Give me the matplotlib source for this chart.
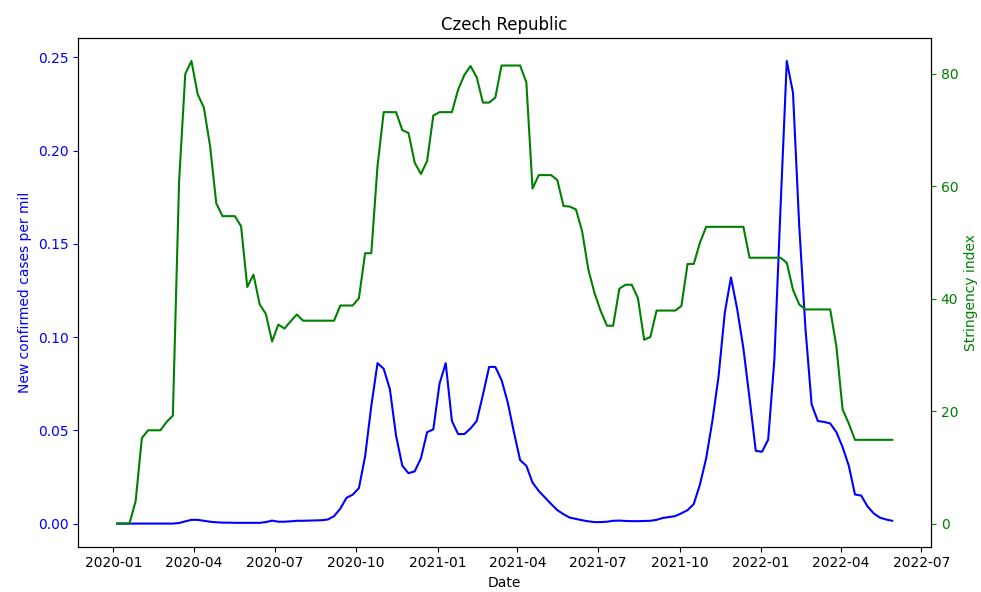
import numpy as np
import pandas as pd
from matplotlib import pyplot as plt

# weekly values, Czech Republic
dates = pd.date_range('2020-01-05', periods=126, freq='7D')

cases = [0, 0, 0, 0, 0, 0, 0, 0, 0, 0,
         0.0003, 0.0012, 0.002, 0.002, 0.0015, 0.001, 0.0007, 0.0005, 0.0005, 0.0004,
         0.0004, 0.0004, 0.0004, 0.0004, 0.0008, 0.0016, 0.001, 0.001, 0.0012, 0.0015,
         0.0015, 0.0016, 0.0017, 0.0018, 0.0022, 0.004, 0.008, 0.0138, 0.0155, 0.019,
         0.036, 0.063, 0.086, 0.083, 0.072, 0.047, 0.031, 0.027, 0.028, 0.035,
         0.049, 0.0505, 0.075, 0.086, 0.055, 0.048, 0.048, 0.051, 0.055, 0.069,
         0.084, 0.084, 0.077, 0.065, 0.049, 0.034, 0.031, 0.022, 0.0175, 0.014,
         0.0105, 0.0072, 0.005, 0.0032, 0.0025, 0.0018, 0.0012, 0.0008, 0.0008, 0.001,
         0.0015, 0.0016, 0.0014, 0.0013, 0.0013, 0.0014, 0.0015, 0.002, 0.003, 0.0035,
         0.004, 0.0055, 0.0072, 0.0105, 0.021, 0.035, 0.055, 0.079, 0.113, 0.132,
         0.115, 0.094, 0.067, 0.039, 0.0385, 0.045, 0.088, 0.17, 0.248, 0.231,
         0.16, 0.105, 0.064, 0.055, 0.0545, 0.0537, 0.049, 0.041, 0.031, 0.0156,
         0.015, 0.0093, 0.0055, 0.0032, 0.0022, 0.0015]

stringency = [0, 0, 0, 4, 15.2, 16.6, 16.6, 16.6, 18.1, 19.2,
              60.7, 80.0, 82.3, 76.4, 74.0, 67.2, 57.0, 54.7, 54.7, 54.7,
              52.9, 42.1, 44.3, 39.0, 37.3, 32.4, 35.4, 34.7, 36.0, 37.2,
              36.1, 36.1, 36.1, 36.1, 36.1, 36.1, 38.8, 38.8, 38.8, 40.1,
              48.1, 48.1, 63.6, 73.2, 73.2, 73.2, 70.0, 69.5, 64.2, 62.2,
              64.5, 72.6, 73.2, 73.2, 73.2, 77.2, 79.8, 81.4, 79.4, 74.9,
              74.9, 75.8, 81.5, 81.5, 81.5, 81.5, 78.5, 59.6, 62.0, 62.0,
              62.0, 61.1, 56.5, 56.4, 55.9, 52.0, 45.2, 41.0, 37.8, 35.2,
              35.2, 41.8, 42.5, 42.5, 40.1, 32.7, 33.2, 37.9, 37.9, 37.9,
              37.9, 38.7, 46.2, 46.2, 50.0, 52.8, 52.8, 52.8, 52.8, 52.8,
              52.8, 52.8, 47.3, 47.3, 47.3, 47.3, 47.3, 47.3, 46.4, 41.6,
              39.0, 38.1, 38.1, 38.1, 38.1, 38.1, 31.5, 20.3, 17.8, 14.9,
              14.9, 14.9, 14.9, 14.9, 14.9, 14.9]

fig, ax1 = plt.subplots(figsize=(9.81, 5.92), dpi=100)
fig.subplots_adjust(left=0.0798, right=0.949, bottom=0.0765, top=0.936)

ax1.plot(dates, cases, color='blue')
ax1.set_xlabel('Date')
ax1.set_ylabel('New confirmed cases per mil', color='blue')
ax1.tick_params(axis='y', colors='blue')

ax2 = ax1.twinx()
ax2.plot(dates, stringency, color='green')
ax2.set_ylabel('Stringency index', color='green')
ax2.tick_params(axis='y', colors='green')

plt.title('Czech Republic')
plt.savefig('out.png')
